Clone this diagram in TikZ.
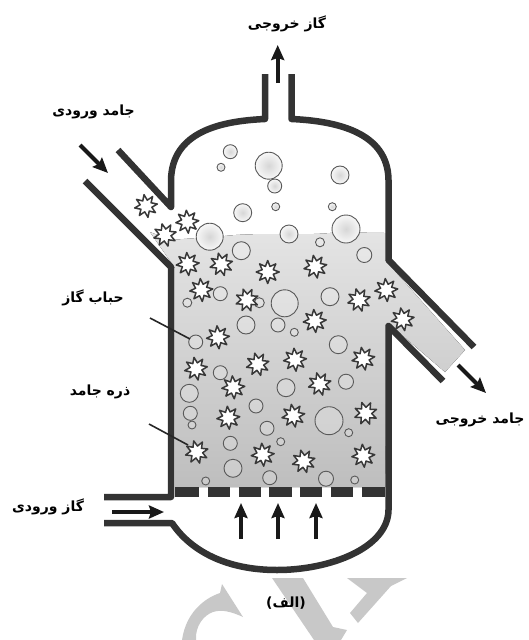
\documentclass[tikz,border=0pt]{standalone}
\usepackage{fontspec}
\usetikzlibrary{arrows.meta}
\newfontfamily\arabicfont[Script=Arabic]{DejaVu Sans}
\TeXXeTstate=1
\definecolor{wallc}{HTML}{333333}
\definecolor{bedtop}{HTML}{E4E4E4}
\definecolor{bedbot}{HTML}{BEBEBE}
\definecolor{wmark}{HTML}{C8C8C8}
\tikzset{
  wall/.style={draw=wallc,line width=6.5pt,line join=round},
  bub/.style={draw=black!65,line width=0.9pt,fill=white,fill opacity=0.2},
  bubhi/.style={draw=black!65,line width=0.9pt,inner color=black!16,outer color=black!3},
  part/.style={draw=black!78,line width=1.5pt,fill=white,line join=round},
  flow/.style={-{Stealth[length=15pt,width=13pt,inset=2pt]},line width=4pt,black!90},
  leader/.style={draw=black!85,line width=1.6pt},
  lab/.style={font=\arabicfont\bfseries\fontsize{14}{16}\selectfont,inner sep=0pt,text=black}
}
\newcommand{\sparticle}[3]{%
  \filldraw[part,shift={(#1,#2)},rotate=#3]
    (0:11.5)--(22.5:6)--(45:11.5)--(67.5:6)--(90:11.5)--(112.5:6)--(135:11.5)--(157.5:6)--
    (180:11.5)--(202.5:6)--(225:11.5)--(247.5:6)--(270:11.5)--(292.5:6)--(315:11.5)--(337.5:6)--cycle;}
\begin{document}
\begin{tikzpicture}[x=1pt,y=-1pt]
\useasboundingbox (0,0) rectangle (529,640);
% watermark
\fill[wmark] (222,584) -- (220,593) .. controls (205,598) and (186,612) .. (182,640) -- (196,640)
  .. controls (195,626) and (204,615) .. (213,612) .. controls (222,609) and (232,612) .. (243,617) -- cycle;
\fill[wmark] (272,578) -- (303,578) -- (333,627) -- (347,630) -- (341,640) -- (314,640) -- cycle;
\fill[wmark] (347,578) -- (407,578) -- (391,586) -- (358,623) -- (350,613) -- (367,593) -- cycle;
% bed
\fill[top color=bedtop,bottom color=bedbot]
  (150,232) -- (170,240) -- (225,236) .. controls (260,232) and (300,236) .. (330,233)
  .. controls (350,232) and (370,233) .. (385,233) -- (385,260) -- (465,350) -- (445,372)
  -- (388,323) -- (385,487) -- (175,487) -- (175,268) -- cycle;
% distributor
\foreach \a/\b in {175/199,208/230,239/261,269/292,300/322,331/353,362/385}
  \fill[wallc] (\a,487) rectangle (\b,497);
% walls
\draw[wall] (265,74) -- (265,119) .. controls (220,121) and (172,132) .. (171,180) -- (171,207) -- (118,150);
\draw[wall] (291.5,74) -- (291.5,119) .. controls (336,121) and (388,132) .. (388.5,180)
  -- (388.5,260) -- (474,347);
\draw[wall] (85,181) -- (171,267) -- (171,497) -- (104,497);
\draw[wall] (443,381) -- (388.5,326) -- (388.5,510)
  .. controls (388,548) and (330,570) .. (277,570)
  .. controls (225,570) and (190,550) .. (172,523) -- (104,523);
% bubbles above the bed
\foreach \x/\y/\r in {230.3/151.7/7,221/167.3/4,268.7/165.7/13.5,274.7/186/7,340/175/9,
 242.7/212.7/9,275.7/206.7/4,332.3/206.7/4,209.7/236.7/13.5,289/234/9,346/229/14}
  \shade[bubhi] (\x,\y) circle (\r);
% bubbles in the bed
\foreach \x/\y/\r in {241.3/250.7/9,320/242.3/4.5,364.3/255/7.5,220.3/293.7/7,187.3/302.7/4.5,259.3/302.7/5,
 284.7/303.3/13.5,330/296.7/9,246/325/9,278/325/7,294.3/332.3/4,338.3/344.7/9,195.7/342/7,
 220.3/372.7/7,189.3/393.3/9,190.3/413.3/7,192/425/4,286/387.7/9,346/381.7/7.5,256/406/7,
 329/420.7/14,348.7/432.7/4,267/428.3/7,280.7/441.7/4,230.3/443.3/7,233/468.3/9,
 269.7/477.7/7,326/478.7/7.5,205.7/481/4,354.7/480/4}
  \filldraw[bub] (\x,\y) circle (\r);
% particles
\foreach \x/\y/\t in {146/206/10,187.3/221.7/5,165/235/15,187.7/264/5,221.3/264.3/15,
 267.7/272/0,315.3/266.7/10,201.3/290/5,247/300/20,314.7/321/5,359/300/15,386.3/290/5,
 402.7/319.3/10,218/337.3/5,196/368.7/10,257.7/364.3/15,295/359.7/5,363.3/358.7/10,
 233.3/387.3/5,319.7/384/15,228.3/417.7/5,293.3/415.7/10,365.7/413.3/20,196.7/452/15,
 262.7/454.7/5,303.7/461.3/15,363.3/455.7/5}
  \sparticle{\x}{\y}{\t}
% flow arrows
\coordinate (outA) at (277.7,83); \coordinate (outB) at (277.7,45);
\coordinate (solA) at (80,145); \coordinate (solB) at (108,173);
\coordinate (gasA) at (112,512); \coordinate (gasB) at (164,512);
\coordinate (exA) at (458,365); \coordinate (exB) at (486,393);
\draw[flow] (outA) -- (outB);
\draw[flow] (solA) -- (solB);
\draw[flow] (gasA) -- (gasB);
\draw[flow] (exA) -- (exB);
\foreach \x in {241,278,316}{\draw[flow] (\x,539) -- (\x,503);}
% leaders
\draw[leader] (150,318) -- (190,339);
\draw[leader] (149,424) -- (188,445);
% labels
\node[lab] (l1) at (287,24) {\beginR گاز خروجی\endR};
\node[lab] (l2) at (93.5,112) {\beginR جامد ورودی\endR};
\node[lab] (l3) at (93,298) {\beginR حباب گاز\endR};
\node[lab] (l4) at (100,392) {\beginR ذره جامد\endR};
\node[lab] (l5) at (48,507) {\beginR گاز ورودی\endR};
\node[lab] (l6) at (480,420) {\beginR جامد خروجی\endR};
\node[lab] (l7) at (286,603) {\beginR(الف)\endR};
\end{tikzpicture}
\end{document}
